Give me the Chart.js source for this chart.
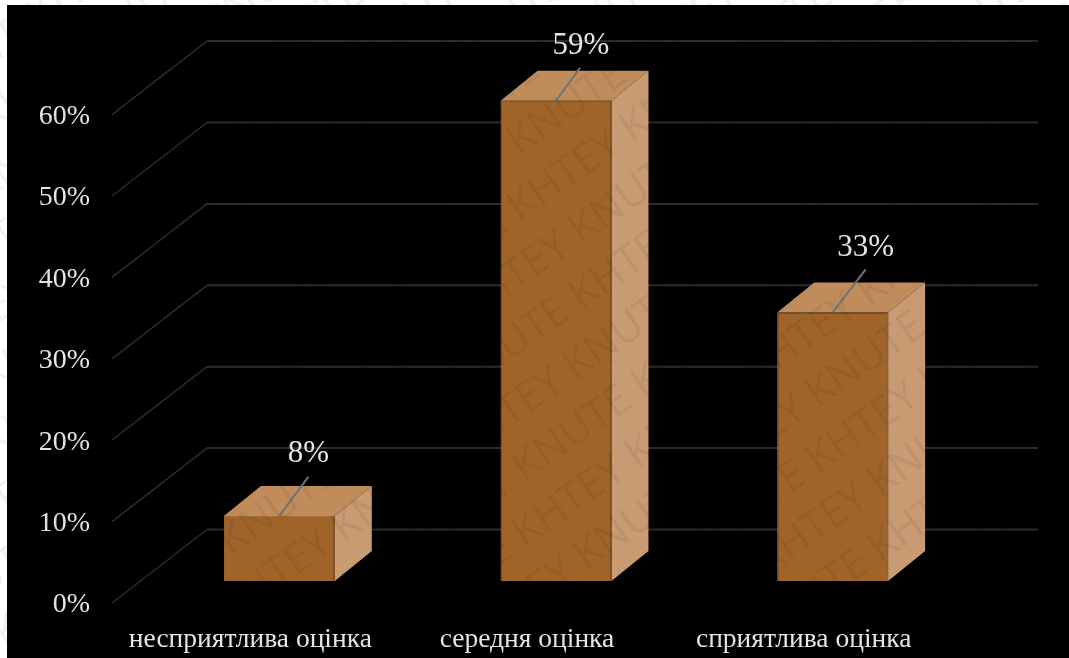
<!DOCTYPE html>
<html>
<head>
<meta charset="utf-8">
<script src="https://cdn.jsdelivr.net/npm/chart.js@4"></script>
<style>
    html, body { margin: 0; padding: 0; background: #fff; overflow: hidden; }
    canvas { display: block; }
</style>
</head>
<body>
<canvas id="chart" width="1069" height="658"></canvas>
<script>
const categories = ['несприятлива оцінка', 'середня оцінка', 'сприятлива оцінка'];
const shares = [8, 59, 33];
const axisMax = 60;
const axisStep = 10;

// 3d look: how far the depth of the box goes, and the back wall of the grid
const depth = {x: 37, y: -30};
const wall = {frontX: 112, backX: 207, endX: 1038, frontDy: 22, backDy: -51.5};
// label position relative to the top of each bar
const leaders = [{x: 29, y: -39, lx: 29, ly: -62}, {x: 24, y: -33, lx: 25, ly: -55}, {x: 33, y: -43, lx: 33, ly: -65}];

const textColor = '#e6e6e6';
const serif = '"Liberation Serif", serif';

const panelBackground = {
    id: 'panelBackground',
    beforeDraw(chart) {
        const ctx = chart.ctx;
        ctx.save();
        ctx.fillStyle = '#fff';
        ctx.fillRect(0, 0, chart.width, chart.height);
        ctx.fillStyle = '#000';
        ctx.fillRect(7, 5, chart.width - 7, chart.height - 5);
        ctx.restore();
    }
};

const wallGrid = {
    id: 'wallGrid',
    beforeDatasetsDraw(chart) {
        const ctx = chart.ctx;
        const y = chart.scales.y;
        ctx.save();
        ctx.strokeStyle = '#2c2c2c';
        y.ticks.forEach(t => {
            const py = y.getPixelForValue(t.value);
            ctx.lineWidth = 1.5;
            ctx.beginPath();
            ctx.moveTo(wall.frontX, py + wall.frontDy);
            ctx.lineTo(wall.backX, py + wall.backDy);
            ctx.stroke();
            ctx.lineWidth = 2;
            ctx.beginPath();
            ctx.moveTo(wall.backX, py + wall.backDy);
            ctx.lineTo(wall.endX, py + wall.backDy);
            ctx.stroke();
        });
        ctx.restore();
    }
};

const boxFaces = {
    id: 'boxFaces',
    beforeDatasetsDraw(chart) {
        const ctx = chart.ctx;
        ctx.save();
        chart.getDatasetMeta(0).data.forEach(bar => {
            const left = bar.x - bar.width / 2;
            const right = bar.x + bar.width / 2;
            ctx.fillStyle = '#c08c5c';
            ctx.beginPath();
            ctx.moveTo(left, bar.y);
            ctx.lineTo(left + depth.x, bar.y + depth.y);
            ctx.lineTo(right + depth.x, bar.y + depth.y);
            ctx.lineTo(right, bar.y);
            ctx.closePath();
            ctx.fill();
            ctx.fillStyle = '#c99b72';
            ctx.beginPath();
            ctx.moveTo(right, bar.y);
            ctx.lineTo(right + depth.x, bar.y + depth.y);
            ctx.lineTo(right + depth.x, bar.base + depth.y);
            ctx.lineTo(right, bar.base);
            ctx.closePath();
            ctx.fill();
        });
        ctx.restore();
    }
};

const valueLabels = {
    id: 'valueLabels',
    afterDatasetsDraw(chart) {
        const ctx = chart.ctx;
        ctx.save();
        chart.getDatasetMeta(0).data.forEach((bar, i) => {
            const l = leaders[i];
            ctx.strokeStyle = '#6d7477';
            ctx.lineWidth = 2;
            ctx.beginPath();
            ctx.moveTo(bar.x, bar.y);
            ctx.lineTo(bar.x + l.x, bar.y + l.y);
            ctx.stroke();
            ctx.fillStyle = textColor;
            ctx.font = '31px ' + serif;
            ctx.textAlign = 'center';
            ctx.textBaseline = 'middle';
            ctx.fillText(shares[i] + '%', bar.x + l.lx, bar.y + l.ly);
        });
        ctx.restore();
    }
};

// the source image carries a faint diagonal stamp, black so it only shows on light areas
const stamp = {
    id: 'stamp',
    afterDraw(chart) {
        const ctx = chart.ctx;
        ctx.save();
        ctx.translate(chart.width / 2, chart.height / 2);
        ctx.rotate(-35 * Math.PI / 180);
        ctx.fillStyle = 'rgba(0, 0, 0, 0.06)';
        ctx.font = '42px "Open Sans", sans-serif';
        ctx.textBaseline = 'middle';
        ctx.textAlign = 'left';
        for (let row = -12; row <= 12; row++) {
            ctx.fillText('KHTEY KNUTE KHTEY KNUTE KHTEY KNUTE KHTEY KNUTE KHTEY KNUTE', -800 + (row % 2) * 100, row * 54);
        }
        ctx.restore();
    }
};

new Chart(document.getElementById('chart'), {
    type: 'bar',
    data: {
        labels: categories,
        datasets: [{
            data: shares,
            backgroundColor: '#a0642a',
            borderColor: '#a96f35',
            borderWidth: 1,
            categoryPercentage: 1,
            barPercentage: 0.401
        }]
    },
    options: {
        responsive: false,
        animation: false,
        layout: {padding: {top: 92.6, right: 98, left: 0, bottom: 0}},
        plugins: {legend: {display: false}, tooltip: {enabled: false}},
        scales: {
            x: {
                grid: {display: false},
                border: {display: false},
                afterFit: s => { s.height = 77; },
                ticks: {
                    color: textColor,
                    font: {family: serif, size: 27.5},
                    padding: 34,
                    labelOffset: -29,
                    maxRotation: 0
                }
            },
            y: {
                min: 0,
                max: axisMax,
                grid: {display: false},
                border: {display: false},
                afterFit: s => { s.width = 141; },
                ticks: {
                    stepSize: axisStep,
                    color: textColor,
                    font: {family: serif, size: 28},
                    padding: 43,
                    labelOffset: 24,
                    callback: v => v + '%'
                }
            }
        }
    },
    plugins: [panelBackground, wallGrid, boxFaces, valueLabels, stamp]
});
</script>
</body>
</html>
